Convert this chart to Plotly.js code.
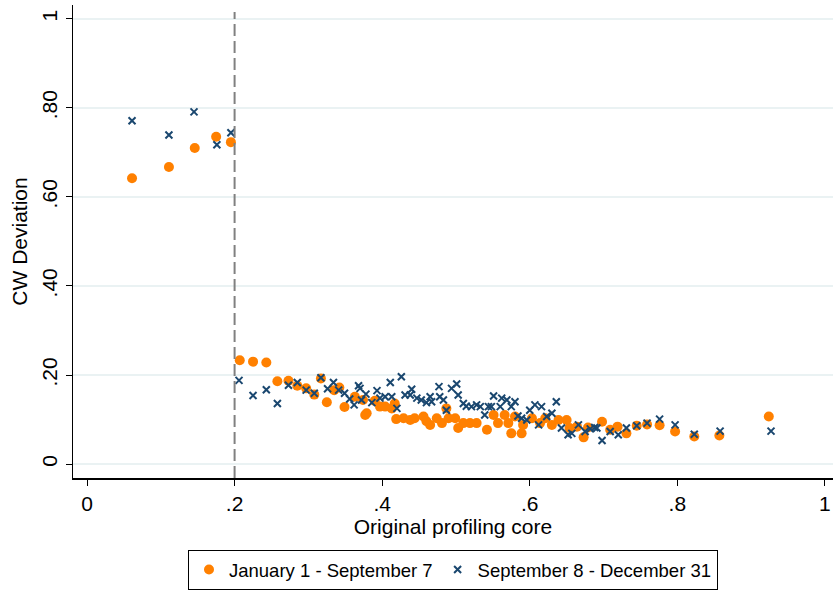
<!DOCTYPE html>
<html>
<head>
<meta charset="utf-8">
<script src="https://cdn.plot.ly/plotly-3.0.1.min.js"></script>
<style>
  html, body { margin: 0; padding: 0; background: #fff; }
  #chart { width: 833px; height: 590px; }
</style>
</head>
<body>
<div id="chart"></div>
<script>
// Jan 1 - Sep 7 (orange dots)
var xEarly = [.061,.111,.146,.175,.195,.207,.225,.243,.258,.273,.285,.297,.308,.317,.325,.335,.342,.349,.363,.374,
  .377,.379,.390,.397,.404,.413,.417,.419,.429,.438,.444,.456,.460,.465,.474,.481,.487,.490,.499,.503,
  .510,.519,.528,.542,.551,.557,.566,.571,.575,.580,.589,.591,.603,.614,.621,.630,.639,.650,.654,.664,
  .673,.679,.698,.709,.719,.731,.745,.759,.776,.797,.823,.857,.924];
var yEarly = [.642,.667,.710,.735,.723,.233,.230,.228,.186,.187,.176,.170,.156,.192,.139,.166,.172,.128,.151,.144,
  .110,.114,.142,.129,.129,.125,.136,.101,.103,.099,.103,.107,.096,.088,.103,.092,.125,.103,.103,.081,
  .092,.092,.092,.077,.110,.092,.110,.092,.069,.107,.069,.088,.103,.092,.103,.088,.099,.099,.081,.084,
  .060,.082,.095,.077,.084,.069,.086,.089,.087,.073,.062,.064,.107];

// Sep 8 - Dec 31 (navy crosses)
var xLate = [.061,.111,.145,.176,.195,.206,.225,.243,.258,.273,.285,.297,.308,.317,.326,.334,.341,.349,.356,.362,
  .368,.370,.372,.378,.386,.393,.397,.404,.411,.413,.420,.426,.431,.438,.440,.447,.453,.460,.465,.467,
  .477,.478,.483,.487,.494,.501,.503,.510,.514,.521,.528,.533,.539,.544,.548,.551,.560,.562,.569,.575,
  .580,.584,.589,.596,.600,.607,.612,.616,.623,.630,.636,.643,.652,.657,.666,.675,.682,.688,.691,.698,
  .709,.720,.731,.745,.759,.776,.797,.823,.858,.927];
var yLate = [.771,.739,.791,.717,.744,.188,.154,.167,.136,.177,.183,.166,.159,.194,.169,.183,.166,.159,.146,.133,
  .176,.170,.144,.157,.138,.165,.148,.151,.183,.151,.125,.196,.155,.155,.168,.148,.144,.138,.151,.140,
  .174,.151,.144,.121,.170,.180,.155,.136,.130,.129,.133,.129,.110,.129,.129,.153,.129,.148,.144,.129,
  .140,.108,.103,.099,.121,.133,.088,.129,.107,.114,.140,.081,.066,.069,.088,.073,.079,.082,.081,.053,
  .073,.066,.081,.086,.092,.101,.088,.067,.074,.074];

var xTicks = [0, .2, .4, .6, .8, 1];
var xTickText = ['0', '.2', '.4', '.6', '.8', '1'];
var yTicks = [0, .2, .4, .6, .8, 1];
var yTickText = ['0', '.20', '.40', '.60', '.80', '1'];
var cutoff = 0.2;

var FONT = 'Arial, "Liberation Sans", sans-serif';

var traces = [
  {
    name: 'January 1 - September 7',
    x: xEarly, y: yEarly,
    mode: 'markers', type: 'scatter',
    marker: { color: '#ff8000', size: 10, symbol: 'circle' }
  },
  {
    name: 'September 8 - December 31',
    x: xLate, y: yLate,
    mode: 'markers', type: 'scatter',
    marker: { color: '#1a476f', size: 7, symbol: 'x-thin', line: { color: '#1a476f', width: 2 } }
  }
];

var layout = {
  width: 833,
  height: 590,
  margin: { l: 73, r: 0, t: 5, b: 110 },
  plot_bgcolor: '#fff',
  paper_bgcolor: '#fff',
  font: { family: FONT, color: '#000' },
  xaxis: {
    range: [-0.019, 1.011],
    tickvals: xTicks, ticktext: xTickText,
    ticks: 'outside', ticklen: 6, tickcolor: '#000', tickwidth: 1,
    tickfont: { size: 21 },
    showgrid: false, zeroline: false,
    showline: true, linecolor: '#000', linewidth: 1.5,
    title: { text: 'Original profiling core', font: { size: 21 }, standoff: 4 }
  },
  yaxis: {
    range: [-0.0313, 1.031],
    tickvals: yTicks, ticktext: yTickText,
    ticks: 'outside', ticklen: 6, tickcolor: '#000', tickwidth: 1,
    tickangle: -90,
    tickfont: { size: 21 },
    showgrid: true, gridcolor: '#eaf2f3', gridwidth: 1.5,
    zeroline: false,
    showline: true, linecolor: '#000', linewidth: 1.5,
    title: { text: 'CW Deviation', font: { size: 21 }, standoff: 4 }
  },
  shapes: [{
    type: 'line', xref: 'x', yref: 'paper',
    x0: cutoff, x1: cutoff, y0: 0, y1: 0.985,
    line: { color: '#808080', width: 2, dash: '12px,5px' }
  }],
  showlegend: true,
  legend: {
    orientation: 'h',
    x: 0.5, xanchor: 'center',
    y: -0.153, yanchor: 'top',
    bordercolor: '#000', borderwidth: 1,
    font: { size: 18.5 },
    itemwidth: 30
  }
};

Plotly.newPlot('chart', traces, layout, { staticPlot: true });
</script>
</body>
</html>
